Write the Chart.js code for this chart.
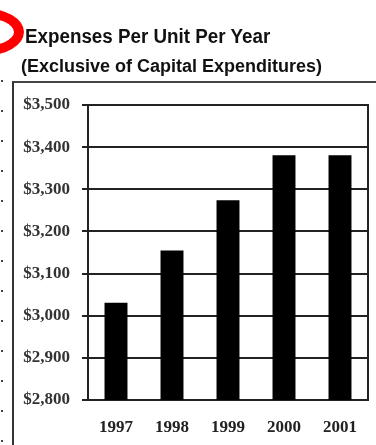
<!DOCTYPE html>
<html>
<head>
<meta charset="utf-8">
<script src="https://cdn.jsdelivr.net/npm/chart.js@4"></script>
<style>
  html, body { margin: 0; padding: 0; background: #fff; }
  #wrap { position: relative; width: 376px; height: 445px; overflow: hidden; }
  #wrap canvas { position: absolute; left: 0; top: 0; }
  .title {
    position: absolute; left: 25px; top: 26px; margin: 0;
    font: bold 20px/20px "Liberation Sans", Arial, sans-serif; color: #111;
    white-space: nowrap; transform: scaleX(0.94); transform-origin: left top;
  }
  .subtitle {
    position: absolute; left: 21px; top: 57px; margin: 0;
    font: bold 18px/18px "Liberation Sans", Arial, sans-serif; color: #111;
    white-space: nowrap;
  }
  .frame {
    position: absolute; left: 12px; top: 81px; right: -2px; bottom: -2px;
    border-left: 2px solid #333; border-top: 2px solid #444;
  }
  .mark {
    position: absolute; left: -58px; top: 8px; width: 82px; height: 48px;
    box-sizing: border-box; border: 10px solid #f00; border-radius: 50%;
  }
  .dots {
    position: absolute; left: 1px; top: 80px; width: 2px; bottom: 0;
    background: repeating-linear-gradient(to bottom, #444 0 2px, transparent 2px 30px);
  }
</style>
</head>
<body>
<div id="wrap">
  <canvas id="expenseChart"></canvas>
  <div class="frame"></div>
  <div class="dots"></div>
  <div class="mark"></div>
  <div class="title">Expenses Per Unit Per Year</div>
  <div class="subtitle">(Exclusive of Capital Expenditures)</div>
</div>
<script>
const years = ['1997', '1998', '1999', '2000', '2001'];
const expensesPerUnit = [3031, 3155, 3274, 3381, 3381];
const yMin = 2800;
const yMax = 3500;
const yStep = 100;

const lineColor = '#222';
const labelFont = { family: '"Liberation Serif", "Times New Roman", serif', size: 17, weight: 'bold' };

const data = {
    labels: years,
    datasets: [{
        label: 'Expenses Per Unit',
        data: expensesPerUnit,
        backgroundColor: '#000',
        borderWidth: 0,
        categoryPercentage: 1,
        barPercentage: 0.41,
    }]
};

const config = {
    type: 'bar',
    data: data,
    options: {
        responsive: true,
        maintainAspectRatio: false,
        animation: false,
        layout: { padding: { top: 105, right: 8, left: 0, bottom: 0 } },
        plugins: {
            legend: { display: false },
            tooltip: { enabled: false }
        },
        scales: {
            x: {
                grid: { display: false, drawTicks: false },
                border: { display: true, color: lineColor, width: 2 },
                ticks: { color: '#222', font: labelFont, padding: 17 },
                afterFit: (axis) => { axis.height = 45; }
            },
            y: {
                min: yMin,
                max: yMax,
                grid: { color: lineColor, lineWidth: 2, tickLength: 6, tickColor: lineColor },
                border: { color: lineColor, width: 2 },
                ticks: {
                    stepSize: yStep,
                    color: '#333',
                    font: labelFont,
                    padding: 12,
                    callback: (value) => '$' + value.toLocaleString('en-US')
                },
                afterFit: (axis) => { axis.width = 88; }
            },
            y2: {
                position: 'right',
                min: yMin,
                max: yMax,
                grid: { drawOnChartArea: false, drawTicks: false },
                border: { color: lineColor, width: 2 },
                ticks: { display: false },
                afterFit: (axis) => { axis.width = 0; }
            }
        }
    }
};

new Chart(document.getElementById('expenseChart'), config);
</script>
</body>
</html>
